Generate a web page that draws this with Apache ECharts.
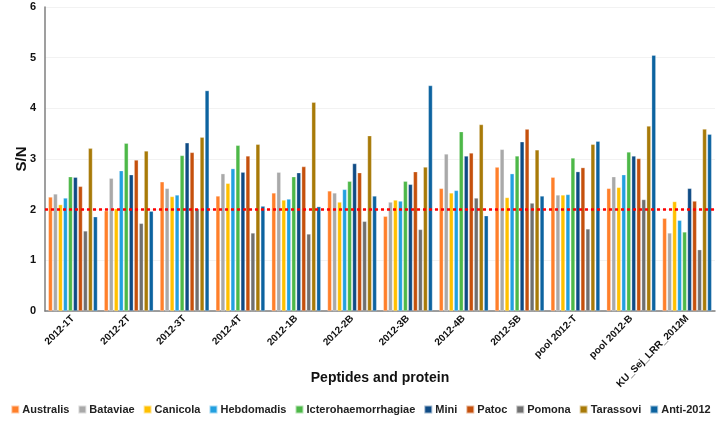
<!DOCTYPE html>
<html>
<head>
<meta charset="utf-8">
<script src="https://cdn.jsdelivr.net/npm/echarts@6/dist/echarts.min.js"></script>
<style>html,body{margin:0;padding:0;background:#fff;}#c{width:721px;height:425px;}</style>
</head>
<body>
<div id="c"></div>
<script>
const categories = ['2012-1T','2012-2T','2012-3T','2012-4T','2012-1B','2012-2B','2012-3B','2012-4B','2012-5B','pool 2012-T','pool 2012-B','KU_Sej_LRR_2012M'];
const australis  = [2.25,1.98,2.55,2.27,2.33,2.37,1.87,2.42,2.84,2.64,2.42,1.83];
const bataviae   = [2.31,2.62,2.42,2.71,2.74,2.33,2.15,3.10,3.19,2.29,2.65,1.54];
const canicola   = [2.10,2.02,2.26,2.52,2.19,2.15,2.19,2.33,2.24,2.29,2.44,2.16];
const hebdomadis = [2.23,2.77,2.29,2.81,2.21,2.40,2.17,2.38,2.71,2.30,2.69,1.79];
const ictero     = [2.65,3.31,3.07,3.27,2.65,2.56,2.56,3.54,3.06,3.02,3.14,1.56];
const mini       = [2.64,2.69,3.32,2.74,2.73,2.91,2.50,3.06,3.34,2.75,3.06,2.42];
const patoc      = [2.46,2.98,3.13,3.06,2.85,2.73,2.75,3.12,3.59,2.83,3.01,2.17];
const pomona     = [1.58,1.73,2.02,1.54,1.52,1.77,1.61,2.23,2.13,1.62,2.20,1.21];
const tarassovi  = [3.21,3.16,3.43,3.29,4.12,3.46,2.84,3.68,3.18,3.29,3.65,3.59];
const anti2012   = [1.86,1.97,4.35,2.07,2.06,2.27,4.45,1.88,2.27,3.35,5.05,3.49];
const seriesNames = ['Australis','Bataviae','Canicola','Hebdomadis','Icterohaemorrhagiae','Mini','Patoc','Pomona','Tarassovi','Anti-2012'];
const seriesData = [australis,bataviae,canicola,hebdomadis,ictero,mini,patoc,pomona,tarassovi,anti2012];
const colors = ['#FF7F2A','#A9A9A9','#FFC000','#22A0E0','#4DB848','#0F4B85','#C5500C','#707070','#A87A08','#0C63A0'];
const yTicks = [0,1,2,3,4,5,6];
const cutoff = 2;

const font = 'Liberation Sans, Arial, sans-serif';
const chart = echarts.init(document.getElementById('c'));
const series = seriesNames.map((n,i)=>({
  name:n, type:'bar', data:seriesData[i],
  itemStyle:{color:colors[i], borderColor:'rgba(255,255,255,0.6)', borderWidth:0.5},
  barGap:'20%', barCategoryGap:'12%',
  animation:false,
  markLine: i===0 ? {
    silent:true, symbol:'none', animation:false,
    lineStyle:{color:'#FF0000', type:[3,3], width:2.5},
    label:{show:false},
    data:[{yAxis:cutoff}]
  } : undefined
}));
chart.setOption({
  animation:false,
  color:colors,
  textStyle:{fontFamily:font},
  grid:{left:45,right:6,top:7,bottom:114},
  legend:{
    bottom:5, left:'center', itemWidth:8, itemHeight:8, itemGap:8,
    icon:'rect',
    textStyle:{fontSize:11, fontWeight:'bold', color:'#222', fontFamily:font, padding:[0,0,0,-2]},
    data:seriesNames
  },
  xAxis:{
    type:'category', data:categories,
    name:'Peptides and protein', nameLocation:'middle', nameGap:60, nameMoveOverlap:false,
    nameTextStyle:{fontSize:14, fontWeight:'bold', color:'#111'},
    axisLine:{lineStyle:{color:'#7f7f7f', width:1.5}},
    axisTick:{show:false},
    axisLabel:{rotate:45, interval:0, fontSize:10, fontWeight:'bold', color:'#111', margin:6}
  },
  yAxis:{
    type:'value', min:yTicks[0], max:yTicks[yTicks.length-1], interval:1,
    name:'S/N', nameLocation:'middle', nameGap:16, nameMoveOverlap:false,
    nameTextStyle:{fontSize:15, fontWeight:'bold', color:'#111'},
    axisLine:{show:true, lineStyle:{color:'#7f7f7f', width:1.5}},
    axisTick:{show:false},
    axisLabel:{fontSize:11, fontWeight:'bold', color:'#111', margin:9},
    splitLine:{lineStyle:{color:'#f2f2f2'}}
  },
  series:series
});
</script>
</body>
</html>
